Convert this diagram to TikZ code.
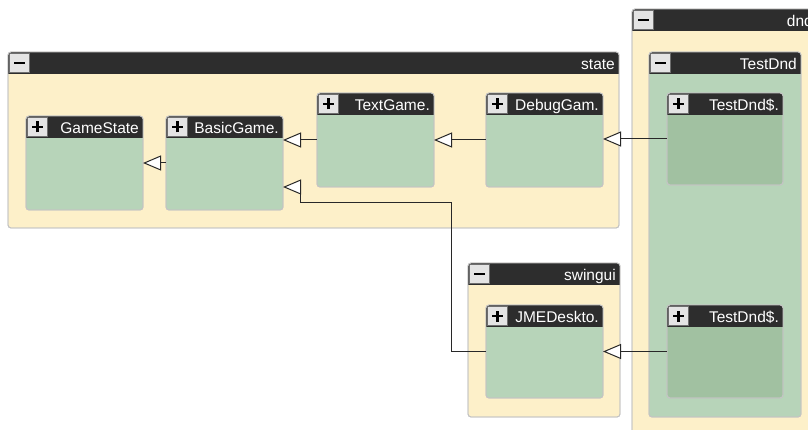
\documentclass[tikz,border=0pt]{standalone}
\usepackage{fontspec}
\setmainfont{Liberation Sans}
\usetikzlibrary{arrows.meta}

\definecolor{headfill}{RGB}{45,45,45}
\definecolor{groupfill}{RGB}{253,240,201}
\definecolor{classfill}{RGB}{183,212,185}
\definecolor{innerfill}{RGB}{161,193,161}
\definecolor{edgegrey}{RGB}{196,196,196}
\definecolor{btnfill}{RGB}{228,228,228}
\definecolor{btnedge}{RGB}{110,110,110}
\definecolor{linkcol}{RGB}{40,40,40}

\tikzset{
  boxshape/.style={draw=edgegrey, line width=0.9pt, rounded corners=3pt,
    rectangle, inner sep=0pt, outer sep=0pt, anchor=north west},
  boxborder/.style={draw=edgegrey, line width=0.9pt, rounded corners=3pt},
  btn/.style={rectangle, fill=btnfill, draw=btnedge, line width=0.8pt,
    minimum width=20pt, minimum height=19pt, inner sep=0pt},
  sign/.style={line width=2.4pt, black},
  lbl/.style={text=white, inner sep=0pt, anchor=base east,
    font=\fontsize{15.5}{18}\selectfont},
  inh/.style={draw=linkcol, line width=1pt,
    -{Triangle[length=18pt, width=15pt, fill=white, line join=miter]}},
}

% #1 name, #2 x1, #3 y1, #4 x2, #5 y2, #6 body colour, #7 title, #8 1 = plus, 0 = minus
\newcommand\umlbox[8]{%
  \node[boxshape, fill=#6, minimum width={(#4-#2)*1pt},
        minimum height={(#5-#3)*1pt}] (#1) at (#2,#3) {};
  \begin{scope}
    \clip[rounded corners=3pt] (#1.north west) rectangle (#1.south east);
    \fill[headfill] (#1.north west) rectangle ([yshift=-22pt]#1.north east);
  \end{scope}
  \draw[boxborder] (#1.north west) rectangle (#1.south east);
  \node[btn] (#1-btn) at ([xshift=11.5pt, yshift=-11pt]#1.north west) {};
  \draw[sign] ([xshift=-5.5pt]#1-btn.center) -- ([xshift=5.5pt]#1-btn.center);
  \ifnum#8=1
    \draw[sign] ([yshift=-5.5pt]#1-btn.center) -- ([yshift=5.5pt]#1-btn.center);
  \fi
  \node[lbl] (#1-title) at ([xshift=-4pt, yshift=-17.5pt]#1.north east) {#7};
}

\begin{document}
\begin{tikzpicture}[x=1pt, y=-1pt]
  \useasboundingbox (0,0) rectangle (808,430);
  \clip (0,0) rectangle (808,430);

  % package "state"
  \umlbox{state}{8}{52}{619}{228}{groupfill}{state}{0}
  \umlbox{gamestate}{26}{116}{143}{210}{classfill}{GameState}{1}
  \umlbox{basicgame}{166}{116}{283}{210}{classfill}{BasicGame.}{1}
  \umlbox{textgame}{317}{93}{434}{187}{classfill}{TextGame.}{1}
  \umlbox{debuggame}{486}{93}{603}{187}{classfill}{DebugGam.}{1}

  % package "swingui"
  \umlbox{swingui}{468}{263}{620}{417}{groupfill}{swingui}{0}
  \umlbox{jmedesktop}{486}{305}{603}{398}{classfill}{JMEDeskto.}{1}

  % package "dnd" with class TestDnd and its inner classes
  \umlbox{dnd}{632}{9}{817}{445}{groupfill}{dnd}{0}
  \umlbox{testdnd}{649}{52}{801}{417}{classfill}{TestDnd}{0}
  \umlbox{testdndA}{667}{93}{783}{185}{innerfill}{TestDnd\$.}{1}
  \umlbox{testdndB}{667}{305}{783}{398}{innerfill}{TestDnd\$.}{1}

  % inheritance links
  \draw[inh] (basicgame) -- (gamestate);
  \draw[inh] (textgame.west) -- (textgame.west -| basicgame.east);
  \draw[inh] (debuggame) -- (textgame);
  \draw[inh] (testdndA.west) -- (testdndA.west -| debuggame.east);
  \draw[inh] (testdndB) -- (jmedesktop);
  \coordinate (bendA) at (451,203);
  \coordinate (bendB) at (300,203);
  \draw[inh] (jmedesktop.west) -| (bendA) -- (bendB)
    |- ([yshift=-24pt]basicgame.east);
\end{tikzpicture}
\end{document}
